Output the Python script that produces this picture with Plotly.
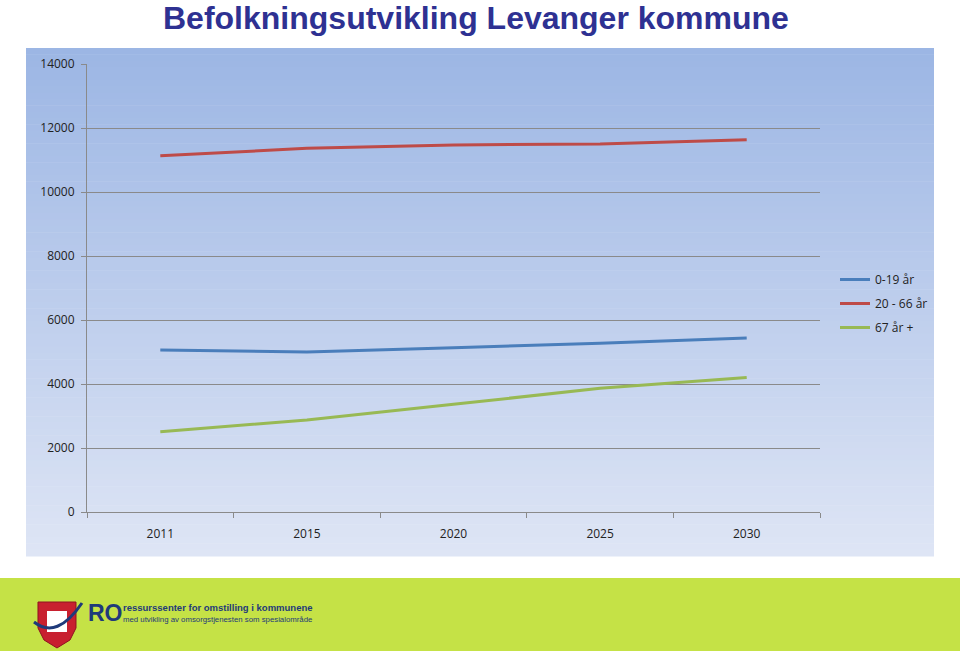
import plotly.graph_objects as go

years = ["2011", "2015", "2020", "2025", "2030"]
age_0_19 = [5060, 5000, 5135, 5270, 5440]
age_20_66 = [11130, 11365, 11470, 11500, 11635]
age_67_plus = [2510, 2875, 3365, 3865, 4200]
y_ticks = [0, 2000, 4000, 6000, 8000, 10000, 12000, 14000]

W, H = 960, 651
L, R, T, B = 87, 820, 64, 512


def px(x):
    return (x - L) / (R - L)


def py(y):
    return (B - y) / (B - T)


fig = go.Figure()
series = [
    ("0-19 år", age_0_19, "#4A7EBB"),
    ("20 - 66 år", age_20_66, "#BE4B48"),
    ("67 år +", age_67_plus, "#98B954"),
]
for name, vals, col in series:
    fig.add_trace(go.Scatter(x=years, y=vals, name=name, mode="lines", legendgroup=name,
                             line=dict(color=col, width=3)))

shapes = []
# gradient background of chart box
top_c = (156, 182, 228)
bot_c = (222, 229, 245)
y0, y1 = 48, 556
n = 80
for i in range(n):
    a = y0 + (y1 - y0) * i / n
    b = y0 + (y1 - y0) * (i + 1) / n
    t = i / (n - 1)
    c = tuple(round(top_c[k] + (bot_c[k] - top_c[k]) * t) for k in range(3))
    shapes.append(dict(type="rect", xref="paper", yref="paper", layer="below",
                       x0=px(26), x1=px(934), y0=py(b + 0.5), y1=py(a),
                       fillcolor="rgb(%d,%d,%d)" % c, line=dict(width=0)))
# green footer band
shapes.append(dict(type="rect", xref="paper", yref="paper", layer="below",
                   x0=px(-5), x1=px(965), y0=py(656), y1=py(578),
                   fillcolor="#C5E246", line=dict(width=0)))


def path_px(points):
    s = "M %f %f " % (px(points[0][0]), py(points[0][1]))
    for p in points[1:]:
        s += "L %f %f " % (px(p[0]), py(p[1]))
    return s + "Z"


# logo shield
shapes.append(dict(type="path", xref="paper", yref="paper",
                   path=path_px([(38, 602), (76, 602), (76, 628), (70, 640), (57, 648),
                                 (44, 640), (38, 628)]),
                   fillcolor="#C8202F", line=dict(color="#8E1420", width=1)))
shapes.append(dict(type="rect", xref="paper", yref="paper",
                   x0=px(47), x1=px(67), y0=py(632), y1=py(611),
                   fillcolor="#FFFFFF", line=dict(width=0)))
shapes.append(dict(type="path", xref="paper", yref="paper",
                   path="M %f %f Q %f %f %f %f" % (px(34), py(622), px(57), py(640), px(82), py(603)),
                   line=dict(color="#1F3A7A", width=3)))

annotations = [
    dict(text="<b>Befolkningsutvikling Levanger kommune</b>", xref="paper", yref="paper",
         x=px(476), y=py(18), xanchor="center", yanchor="middle", showarrow=False,
         font=dict(family="Liberation Sans", size=32, color="#2E3192")),
    dict(text="<b>RO</b>", xref="paper", yref="paper", x=px(86), y=py(613),
         xanchor="left", yanchor="middle", showarrow=False,
         font=dict(family="Liberation Sans", size=23, color="#1F3A7A")),
    dict(text="<b>ressurssenter for omstilling i kommunene</b>", xref="paper", yref="paper",
         x=px(121), y=py(607), xanchor="left", yanchor="middle", showarrow=False,
         font=dict(family="Liberation Sans", size=9.5, color="#1F3A7A")),
    dict(text="med utvikling av omsorgstjenesten som spesialområde", xref="paper", yref="paper",
         x=px(121), y=py(619), xanchor="left", yanchor="middle", showarrow=False,
         font=dict(family="Liberation Sans", size=7.8, color="#1F3A7A")),
]

fig.update_layout(
    width=W, height=H,
    margin=dict(l=L, r=W - R, t=T, b=H - B),
    paper_bgcolor="white",
    plot_bgcolor="rgba(0,0,0,0)",
    shapes=shapes,
    annotations=annotations,
    showlegend=True,
    legend=dict(x=px(835), y=py(265), xanchor="left", yanchor="top",
                bgcolor="rgba(0,0,0,0)", font=dict(family="Open Sans", size=12, color="#222"),
                tracegroupgap=5, itemwidth=30),
    font=dict(family="Open Sans", size=12, color="#222"),
)
fig.update_xaxes(type="category", tickmode="array", tickvals=years, ticktext=years,
                 range=[-0.5, 4.5],
                 showline=True, linecolor="#8A8A8A", linewidth=1,
                 ticks="outside", tickson="boundaries", ticklen=5, tickcolor="#8A8A8A",
                 ticklabelstandoff=11,
                 showgrid=False, zeroline=False, tickfont=dict(size=12))
fig.update_yaxes(range=[0, 14000], tickmode="array", tickvals=y_ticks,
                 ticktext=[str(v) for v in y_ticks],
                 showline=True, linecolor="#8A8A8A", linewidth=1,
                 ticks="outside", ticklen=5, tickcolor="#8A8A8A",
                 ticklabelstandoff=4,
                 showgrid=True, gridcolor="#8A8A8A", gridwidth=1, zeroline=False,
                 tickfont=dict(size=12))

fig.write_html("out.html", config={"displayModeBar": False},
               post_script="document.body.style.margin='0px';")
